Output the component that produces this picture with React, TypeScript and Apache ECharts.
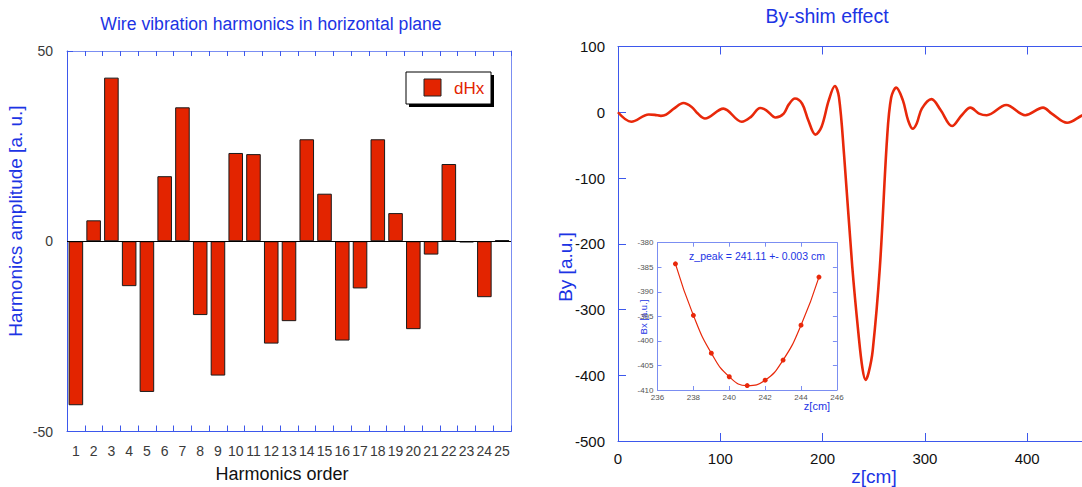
import React, { useEffect, useRef } from "react";
import * as echarts from "echarts";

// ---------- data ----------
const harmonicOrders = ["1", "2", "3", "4", "5", "6", "7", "8", "9", "10", "11", "12", "13", "14", "15", "16", "17", "18", "19", "20", "21", "22", "23", "24", "25"];
const dHx = [-43.1, 5.5, 43.0, -11.8, -39.6, 17.1, 35.2, -19.4, -35.3, 23.2, 22.9, -26.9, -21.0, 26.8, 12.5, -26.1, -12.4, 26.8, 7.4, -23.1, -3.5, 20.3, -0.3, -14.7, 0.3];

const byShimZ = [0, 13, 30, 36, 42, 47, 55, 64, 72, 78, 85, 103, 121, 130, 139, 145, 154, 162, 167, 173, 180, 186, 193, 199, 206, 212, 216, 221, 229, 235, 239, 242, 245, 249, 256, 263, 267, 272, 278.5, 283.5, 288, 292, 297, 306.5, 315.5, 326.5, 336, 344.5, 353, 360.5, 379.5, 398, 415.5, 424, 439, 453.5, 465];
const byShimBy = [0, -14.5, -3.5, -4, -5.5, -3.5, 6, 14, 8, -2, -9.5, 5.5, -14.5, -7, 6.5, 3, -8, -2, 12, 21, 13, -12, -34, -22, 18, 40, 23, -65, -235, -336, -390, -407, -396, -362, -235, -40, 22, 37.5, 18, -12, -25, -17, 5.5, 20, 3, -21, -4.5, 7, -2, -4.5, 11, -4.5, 7, -2, -16, -5, 3];

const insetZ = [237, 238, 239, 240, 241, 242, 243, 244, 245];
const insetBx = [-384.3, -394.8, -402.5, -407.3, -409.1, -408.0, -403.9, -396.8, -387.0];

const leftYTicks = { min: -50, max: 50, interval: 50 };
const rightXTicks = { min: 0, max: 500, interval: 100 };
const rightYTicks = { min: -500, max: 100, interval: 100 };
const insetXTicks = { min: 236, max: 246, interval: 2 };
const insetYTicks = { min: -410, max: -380, interval: 5 };

// ---------- styles ----------
const FONT = "'Liberation Sans', Arial, sans-serif";
const BLUE_TEXT = "#1c34e4";
const AXIS = "#3d58ec";
const FRAME = "#7b8ef2";
const BAR_RED = "#e32400";
const LINE_RED = "#e8280a";

export default function App() {
  const ref = useRef<HTMLDivElement>(null);

  useEffect(() => {
    if (!ref.current) return;
    const chart = echarts.init(ref.current, null, { renderer: "svg" });

    const noSplit = { show: false };
    const tick = (len: number, color = AXIS) => ({ show: true, inside: true, length: len, lineStyle: { color, width: 1 } });
    const line = (color: string) => ({ show: true, onZero: false, lineStyle: { color, width: 1 } });
    const centered = { align: "center", verticalAlign: "middle", textAlign: "center", textVerticalAlign: "middle" };

    const option: any = {
      animation: false,
      backgroundColor: "#ffffff",
      title: [
        {
          text: "Wire vibration harmonics in horizontal plane",
          left: 271,
          top: 15,
          textAlign: "center",
          padding: 0,
          textStyle: { fontFamily: FONT, fontSize: 17.6, fontWeight: "normal", color: BLUE_TEXT },
        },
        {
          text: "By-shim effect",
          left: 827,
          top: 6,
          textAlign: "center",
          padding: 0,
          textStyle: { fontFamily: FONT, fontSize: 19.5, fontWeight: "normal", color: BLUE_TEXT },
        },
      ],
      grid: [
        { left: 67, top: 51, width: 444, height: 380.5, outerBoundsMode: "none" },
        { left: 618, top: 46.5, width: 511.5, height: 394.5, outerBoundsMode: "none" },
        { left: 657.5, top: 242.7, width: 179.4, height: 147.3, outerBoundsMode: "none" },
      ],
      xAxis: [
        {
          type: "category",
          gridIndex: 0,
          data: harmonicOrders,
          position: "bottom",
          axisLine: line(AXIS),
          axisTick: tick(6),
          axisLabel: { interval: 0, margin: 12, fontSize: 14, color: "#3a3a3a", fontFamily: FONT },
          splitLine: noSplit,
        },
        {
          type: "category",
          gridIndex: 0,
          data: harmonicOrders,
          position: "top",
          axisLine: line(FRAME),
          axisTick: tick(5),
          axisLabel: { show: false },
          splitLine: noSplit,
        },
        {
          type: "value",
          gridIndex: 1,
          ...rightXTicks,
          position: "bottom",
          axisLine: line(AXIS),
          axisTick: tick(8),
          axisLabel: { margin: 10, fontSize: 15, color: "#111", fontFamily: FONT, showMaxLabel: false },
          splitLine: noSplit,
        },
        {
          type: "value",
          gridIndex: 1,
          ...rightXTicks,
          position: "top",
          axisLine: line(AXIS),
          axisTick: tick(8),
          axisLabel: { show: false },
          splitLine: noSplit,
        },
        {
          type: "value",
          gridIndex: 2,
          ...insetXTicks,
          position: "bottom",
          axisLine: line(FRAME),
          axisTick: tick(4, FRAME),
          axisLabel: { margin: 3, fontSize: 8, color: "#555", fontFamily: FONT },
          splitLine: noSplit,
        },
        {
          type: "value",
          gridIndex: 2,
          ...insetXTicks,
          position: "top",
          axisLine: line(FRAME),
          axisTick: tick(4, FRAME),
          axisLabel: { show: false },
          splitLine: noSplit,
        },
      ],
      yAxis: [
        {
          type: "value",
          gridIndex: 0,
          ...leftYTicks,
          position: "left",
          axisLine: line(AXIS),
          axisTick: tick(6),
          axisLabel: { margin: 14, fontSize: 14, color: "#3a3a3a", fontFamily: FONT },
          splitLine: noSplit,
        },
        {
          type: "value",
          gridIndex: 0,
          ...leftYTicks,
          position: "right",
          axisLine: line(FRAME),
          axisTick: { show: false },
          axisLabel: { show: false },
          splitLine: noSplit,
        },
        {
          type: "value",
          gridIndex: 1,
          ...rightYTicks,
          position: "left",
          axisLine: line(AXIS),
          axisTick: tick(8),
          axisLabel: { margin: 13, fontSize: 15, color: "#111", fontFamily: FONT },
          splitLine: noSplit,
        },
        {
          type: "value",
          gridIndex: 2,
          ...insetYTicks,
          position: "left",
          axisLine: line(FRAME),
          axisTick: tick(4, FRAME),
          axisLabel: { margin: 4, fontSize: 8, color: "#555", fontFamily: FONT },
          splitLine: noSplit,
        },
        {
          type: "value",
          gridIndex: 2,
          ...insetYTicks,
          position: "right",
          axisLine: line(FRAME),
          axisTick: tick(4, FRAME),
          axisLabel: { show: false },
          splitLine: noSplit,
        },
      ],
      series: [
        {
          name: "dHx",
          type: "bar",
          xAxisIndex: 0,
          yAxisIndex: 0,
          data: dHx,
          barCategoryGap: "18%",
          itemStyle: { color: BAR_RED, borderColor: "#1a1a1a", borderWidth: 1 },
          markLine: {
            silent: true,
            symbol: ["none", "none"],
            label: { show: false },
            lineStyle: { color: "#000", width: 1, type: "solid" },
            data: [{ yAxis: 0 }],
          },
        },
        {
          name: "By",
          type: "line",
          xAxisIndex: 2,
          yAxisIndex: 2,
          data: byShimZ.map((z, i) => [z, byShimBy[i]]),
          smooth: 0.35,
          showSymbol: false,
          lineStyle: { color: LINE_RED, width: 2.6 },
          itemStyle: { color: LINE_RED },
        },
        {
          name: "Bx",
          type: "line",
          xAxisIndex: 4,
          yAxisIndex: 3,
          data: insetZ.map((z, i) => [z, insetBx[i]]),
          smooth: true,
          symbol: "circle",
          symbolSize: 5,
          showSymbol: true,
          lineStyle: { color: LINE_RED, width: 1.2 },
          itemStyle: { color: LINE_RED },
        },
      ],
      graphic: [
        // legend box of the bar chart
        { type: "rect", shape: { x: 409, y: 75, width: 85, height: 32 }, style: { fill: "#000" }, silent: true },
        { type: "rect", shape: { x: 406, y: 72, width: 85, height: 32 }, style: { fill: "#fff", stroke: "#000", lineWidth: 1 }, silent: true },
        { type: "rect", shape: { x: 424, y: 79, width: 17, height: 17 }, style: { fill: BAR_RED, stroke: "#222", lineWidth: 1 }, silent: true },
        {
          type: "text",
          x: 454,
          y: 88,
          style: { text: "dHx", fill: BAR_RED, font: `17px ${FONT}`, align: "left", verticalAlign: "middle", textAlign: "left", textVerticalAlign: "middle" },
        },
        // axis names
        {
          type: "text",
          x: 15,
          y: 221,
          rotation: Math.PI / 2,
          style: { text: "Harmonics amplitude [a. u.]", fill: BLUE_TEXT, font: `19px ${FONT}`, ...centered },
        },
        {
          type: "text",
          x: 282,
          y: 474,
          style: { text: "Harmonics order", fill: "#111", font: `18px ${FONT}`, ...centered },
        },
        {
          type: "text",
          x: 565,
          y: 267,
          rotation: Math.PI / 2,
          style: { text: "By [a.u.]", fill: BLUE_TEXT, font: `19px ${FONT}`, ...centered },
        },
        {
          type: "text",
          x: 874,
          y: 476,
          style: { text: "z[cm]", fill: BLUE_TEXT, font: `19px ${FONT}`, ...centered },
        },
        // inset texts
        {
          type: "text",
          x: 757,
          y: 256,
          style: { text: "z_peak = 241.11 +- 0.003 cm", fill: BLUE_TEXT, font: `10.5px ${FONT}`, ...centered },
        },
        {
          type: "text",
          x: 643,
          y: 317,
          rotation: Math.PI / 2,
          style: { text: "Bx [a.u.]", fill: BLUE_TEXT, font: `9.5px ${FONT}`, ...centered },
        },
        {
          type: "text",
          x: 817,
          y: 406,
          style: { text: "z[cm]", fill: BLUE_TEXT, font: `11px ${FONT}`, ...centered },
        },
      ],
    };

    chart.setOption(option);
    return () => {
      chart.dispose();
    };
  }, []);

  return (
    <div
      ref={ref}
      style={{ position: "absolute", left: 0, top: 0, width: 1082, height: 487, background: "#fff" }}
    />
  );
}
